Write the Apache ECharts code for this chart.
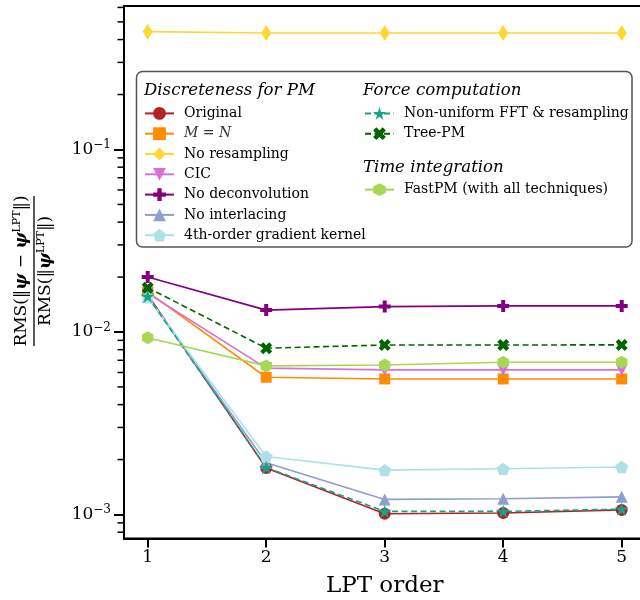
<!DOCTYPE html>
<html><head><meta charset="utf-8">
<script src="https://cdn.jsdelivr.net/npm/echarts@6/dist/echarts.min.js"></script>
<style>html,body{margin:0;padding:0;background:#fff}#c{width:640px;height:600px}</style>
</head><body><div id="c"></div>
<script>
// ---- data ----
const lptOrders = [1, 2, 3, 4, 5];
const original      = [0.0160, 0.00180, 0.00101, 0.00102, 0.00106];
const mEqualsN      = [0.0166, 0.00565, 0.00553, 0.00553, 0.00553];
const noResampling  = [0.442, 0.435, 0.435, 0.435, 0.435];
const cic           = [0.0163, 0.00634, 0.00620, 0.00620, 0.00620];
const noDeconv      = [0.0200, 0.01318, 0.01378, 0.0139, 0.0139];
const noInterlacing = [0.0156, 0.00192, 0.00121, 0.00122, 0.00125];
const gradient4th   = [0.0155, 0.00208, 0.00175, 0.00178, 0.00182];
const nufft         = [0.0157, 0.00181, 0.00104, 0.00104, 0.00107];
const treePM        = [0.0175, 0.00815, 0.00849, 0.00849, 0.00850];
const fastPM        = [0.00931, 0.00652, 0.00660, 0.00683, 0.00683];

const xTicks = [1, 2, 3, 4, 5];
const yMajorTicks = [0.001, 0.01, 0.1];
const yMinorTicks = [0.0008, 0.0009, 0.002, 0.003, 0.004, 0.005, 0.006, 0.007, 0.008, 0.009,
                     0.02, 0.03, 0.04, 0.05, 0.06, 0.07, 0.08, 0.09, 0.2, 0.3, 0.4, 0.5, 0.6];
const yMin = 7.39e-4, yMax = 0.611;
const xMin = 0.8, xMax = 5.2;

const namesPM = ['Original', 'M = N', 'No resampling', 'CIC', 'No deconvolution', 'No interlacing', '4th-order gradient kernel'];
const namesForce = ['Non-uniform FFT & resampling', 'Tree-PM'];
const namesTime = ['FastPM (with all techniques)'];

// ---- symbols ----
const SYM = {
  plus: 'path://M1,0H2V1H3V2H2V3H1V2H0V1H1Z',
  xmark: 'path://M0,1L1,0L2,1L3,0L4,1L3,2L4,3L3,4L2,3L1,4L0,3L1,2Z',
  star: 'path://M0,-1L0.2245,-0.309L0.951,-0.309L0.3633,0.118L0.588,0.809L0,0.382L-0.588,0.809L-0.3633,0.118L-0.951,-0.309L-0.2245,-0.309Z',
  pentagon: 'path://M0,-1L0.951,-0.309L0.588,0.809L-0.588,0.809L-0.951,-0.309Z',
  hexagon: 'path://M0,-1L0.866,-0.5L0.866,0.5L0,1L-0.866,0.5L-0.866,-0.5Z',
  tridown: 'path://M-1,-1L1,-1L0,1Z'
};

function mk(name, vals, color, symbol, size, dash) {
  return {
    name, type: 'line',
    data: lptOrders.map((x, i) => [x, vals[i]]),
    symbol, symbolSize: size, symbolKeepAspect: true,
    showAllSymbol: true,
    itemStyle: { color, borderWidth: 0 },
    lineStyle: { color, width: 1.6, type: dash ? [6, 3.5] : 'solid' },
    emphasis: { disabled: true },
    z: 2
  };
}

// y-axis minor tick marks (log positions computed by the axis scale via api.coord)
function tickSeries(values, len, width) {
  return {
    type: 'custom', silent: true, clip: false, z: 6,
    data: values.map(v => [xMin, v]),
    renderItem: (params, api) => {
      const p = api.coord([api.value(0), api.value(1)]);
      return { type: 'line', shape: { x1: p[0] - len, y1: p[1], x2: p[0], y2: p[1] },
               style: { stroke: '#000', lineWidth: width } };
    }
  };
}

const series = [
  mk('Original', original, '#b22222', 'circle', 12),
  mk('M = N', mEqualsN, '#ff8c00', 'rect', 11),
  mk('No resampling', noResampling, '#fdd835', 'diamond', [10, 16]),
  mk('CIC', cic, '#da70d6', SYM.tridown, 12),
  mk('No deconvolution', noDeconv, '#800080', SYM.plus, 12),
  mk('No interlacing', noInterlacing, '#8c9fcf', 'triangle', 12),
  mk('4th-order gradient kernel', gradient4th, '#b0e0e6', SYM.pentagon, 13),
  mk('Non-uniform FFT & resampling', nufft, '#15a388', SYM.star, 14, true),
  mk('Tree-PM', treePM, '#006400', SYM.xmark, 12, true),
  mk('FastPM (with all techniques)', fastPM, '#a6d854', SYM.hexagon, 13),
  tickSeries(yMinorTicks, 6.5, 1.5)
];

const serif = 'DejaVu Serif';
const legendRich = {
  t: { fontFamily: serif, fontSize: 14, color: '#000', padding: [0, 0, 0, 5], lineHeight: 16 },
  mi0: { fontFamily: serif, fontStyle: 'italic', fontSize: 14, color: '#333', padding: [0, 0, 0, 5], lineHeight: 16 },
  mi: { fontFamily: serif, fontStyle: 'italic', fontSize: 14, color: '#333', lineHeight: 16 },
  eq: { fontFamily: serif, fontSize: 14, color: '#333', lineHeight: 16 }
};
function legendFmt(name) {
  if (name === 'M = N') return '{mi0|M}{eq| = }{mi|N}';
  return '{t|' + name + '}';
}
function mkLegend(data, left, top) {
  return {
    data, left, top, orient: 'vertical', padding: 0,
    itemWidth: 29, itemHeight: 16, itemGap: 6.3,
    selectedMode: false, formatter: legendFmt,
    textStyle: { fontFamily: serif, fontSize: 14, color: '#000', rich: legendRich },
    z: 5
  };
}

const titleFont = 'italic 16.6px "DejaVu Serif"';

const chart = echarts.init(document.getElementById('c'), null, { renderer: 'canvas' });
chart.setOption({
  animation: false,
  backgroundColor: '#fff',
  grid: { left: 124, right: -5.4, top: 6, bottom: 61.5, show: true, borderColor: '#000', borderWidth: 2, outerBoundsMode: 'none' },
  xAxis: {
    type: 'value', min: xMin, max: xMax,
    axisLine: { show: true, lineStyle: { color: '#000', width: 2 } },
    axisTick: { show: true, customValues: xTicks, length: 9, lineStyle: { color: '#000', width: 2 } },
    axisLabel: { customValues: xTicks, fontFamily: serif, fontSize: 17, color: '#000', margin: 11 },
    splitLine: { show: false },
    name: 'LPT order', nameLocation: 'middle', nameGap: 36,
    nameTextStyle: { fontFamily: serif, fontSize: 23, color: '#000' }
  },
  yAxis: {
    type: 'log', logBase: 10, min: yMin, max: yMax,
    axisLine: { show: true, lineStyle: { color: '#000', width: 2 } },
    axisTick: { show: true, customValues: yMajorTicks, length: 10, lineStyle: { color: '#000', width: 2 } },
    axisLabel: {
      customValues: yMajorTicks, margin: 13,
      formatter: v => '{b|10}{s|\u2212' + Math.round(-Math.log10(v)) + '}',
      rich: {
        b: { fontFamily: serif, fontSize: 17, color: '#000' },
        s: { fontFamily: serif, fontSize: 12, color: '#000', padding: [0, 0, 9, 0] }
      }
    },
    splitLine: { show: false }, minorTick: { show: false }
  },
  legend: [
    mkLegend(namesPM, 144, 106.4),
    mkLegend(namesForce, 364, 106.4),
    mkLegend(namesTime, 364, 182.6)
  ],
  graphic: [
    {
      type: 'rect', z: 3,
      shape: { x: 136.5, y: 71.5, width: 495.5, height: 175.5, r: 6 },
      style: { fill: 'rgba(255,255,255,0.85)', stroke: '#555', lineWidth: 1.5 }
    },
    { type: 'text', z: 4, x: 144, y: 90.7, style: { text: 'Discreteness for PM', font: titleFont, fill: '#000', verticalAlign: 'middle' } },
    { type: 'text', z: 4, x: 363, y: 90.7, style: { text: 'Force computation', font: titleFont, fill: '#000', verticalAlign: 'middle' } },
    { type: 'text', z: 4, x: 363, y: 167.3, style: { text: 'Time integration', font: titleFont, fill: '#000', verticalAlign: 'middle' } },
    {
      type: 'group', x: 34, y: 271, rotation: Math.PI / 2,
      children: [
        { type: 'line', shape: { x1: -75, y1: 0, x2: 75, y2: 0 }, style: { stroke: '#000', lineWidth: 1.3 } },
        {
          type: 'text', x: 0, y: -2,
          style: {
            text: '{n|RMS(\u2016}{b|\u03c8}{n| \u2212 }{b|\u03c8}{s|LPT}{n|\u2016)}',
            align: 'center', verticalAlign: 'bottom',
            rich: {
              n: { fontFamily: serif, fontSize: 17, color: '#000' },
              b: { fontFamily: serif, fontSize: 17, fontWeight: 'bold', fontStyle: 'italic', color: '#000' },
              s: { fontFamily: serif, fontSize: 11, color: '#000', padding: [0, 0, 9, 0] }
            }
          }
        },
        {
          type: 'text', x: 0, y: 2,
          style: {
            text: '{n|RMS(\u2016}{b|\u03c8}{s|LPT}{n|\u2016)}',
            align: 'center', verticalAlign: 'top',
            rich: {
              n: { fontFamily: serif, fontSize: 17, color: '#000' },
              b: { fontFamily: serif, fontSize: 17, fontWeight: 'bold', fontStyle: 'italic', color: '#000' },
              s: { fontFamily: serif, fontSize: 11, color: '#000', padding: [0, 0, 9, 0] }
            }
          }
        }
      ]
    }
  ],
  series
});
</script>
</body></html>
